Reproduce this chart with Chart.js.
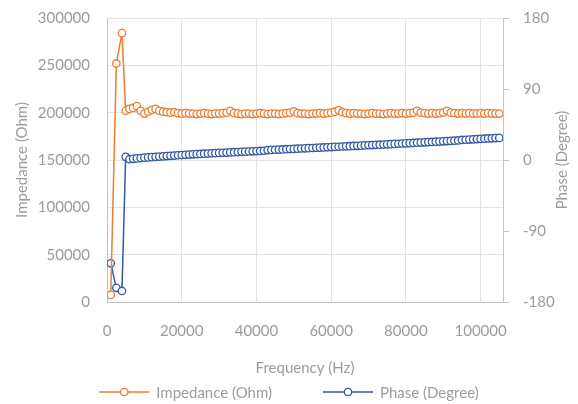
<!DOCTYPE html>
<html>
<head>
<meta charset="utf-8">
<script src="https://cdn.jsdelivr.net/npm/chart.js@4.4.1/dist/chart.umd.min.js"></script>
<style>
  html, body { margin: 0; padding: 0; background: #ffffff; }
  #wrap { width: 578px; height: 404px; }
</style>
</head>
<body>
<div id="wrap"><canvas id="my-chart" width="578" height="404"></canvas></div>
<script>
'use strict';

// frequency (Hz) of every measured point
const frequencies = [
  1000, 2500, 4000,
  5000, 6000, 7000, 8000, 9000, 10000, 11000, 12000, 13000, 14000,
  15000, 16000, 17000, 18000, 19000, 20000, 21000, 22000, 23000, 24000,
  25000, 26000, 27000, 28000, 29000, 30000, 31000, 32000, 33000, 34000,
  35000, 36000, 37000, 38000, 39000, 40000, 41000, 42000, 43000, 44000,
  45000, 46000, 47000, 48000, 49000, 50000, 51000, 52000, 53000, 54000,
  55000, 56000, 57000, 58000, 59000, 60000, 61000, 62000, 63000, 64000,
  65000, 66000, 67000, 68000, 69000, 70000, 71000, 72000, 73000, 74000,
  75000, 76000, 77000, 78000, 79000, 80000, 81000, 82000, 83000, 84000,
  85000, 86000, 87000, 88000, 89000, 90000, 91000, 92000, 93000, 94000,
  95000, 96000, 97000, 98000, 99000, 100000, 101000, 102000, 103000, 104000,
  105000
];

// impedance (Ohm), left axis
const impedance = [
  7500, 252000, 284000,
  202000, 204000, 205000, 207000, 202000, 199000, 201000, 203000, 204000, 202000,
  201000, 200500, 200000, 200500, 199500, 199000, 199500, 199000, 199000, 198500,
  199000, 199500, 199000, 198500, 199000, 199000, 199500, 200000, 202000, 199500,
  199000, 198500, 199000, 199000, 198500, 199000, 199500, 199000, 198500, 199000,
  199000, 198500, 199000, 199500, 200000, 201500, 199500, 199000, 199000, 198500,
  199000, 199000, 199500, 199000, 199500, 200000, 201000, 202500, 200500, 199500,
  199000, 199500, 199000, 199000, 198500, 199000, 199500, 199000, 199000, 198500,
  199000, 199500, 199000, 199000, 199500, 199000, 199500, 200000, 202000, 200000,
  199500, 199000, 199500, 199000, 199500, 200000, 202000, 200000, 199500, 199000,
  199500, 199000, 199500, 199000, 199000, 199500, 199000, 199500, 199000, 199000,
  199000
];

// phase (degree), right axis
const phase = [
  -131, -162, -166,
  4, 1, 1.5, 2, 2.5, 3, 3.3, 3.6, 4, 4.3,
  4.6, 5, 5.3, 5.6, 6, 6.3, 6.6, 6.9, 7.2, 7.5,
  7.7, 8.0, 8.2, 8.5, 8.7, 9.0, 9.2, 9.4, 9.7, 9.9,
  10.1, 10.4, 10.6, 10.8, 11.0, 11.3, 11.5, 11.7, 12.6, 12.8,
  13.0, 13.2, 13.4, 13.7, 13.9, 14.1, 14.3, 14.6, 14.8, 15.0,
  15.2, 15.5, 15.7, 15.9, 16.1, 16.4, 16.6, 16.8, 17.1, 17.3,
  17.5, 17.8, 18.0, 18.2, 18.5, 18.7, 18.9, 19.2, 19.4, 19.6,
  19.9, 20.1, 20.4, 20.6, 20.9, 21.1, 21.4, 21.6, 21.9, 22.1,
  22.4, 22.7, 22.9, 23.2, 23.4, 23.7, 24.0, 24.2, 24.5, 24.8,
  25.4, 25.7, 25.9, 26.2, 26.5, 26.8, 27.0, 27.3, 27.5, 27.8,
  28.0
];

// axis ticks
const freqTicks = [0, 20000, 40000, 60000, 80000, 100000];
const impedanceTicks = [0, 50000, 100000, 150000, 200000, 250000, 300000];
const phaseTicks = [-180, -90, 0, 90, 180];

const seriesNames = ['Impedance (Ohm)', 'Phase (Degree)'];
const seriesColors = ['#ed7d31', '#3358a4'];

const textColor = '#9c9c9c';
const gridColor = '#e4e4e4';
const axisColor = '#c4c4c4';

Chart.defaults.font.family = 'Lato, "Open Sans", sans-serif';
Chart.defaults.font.size = 15;
Chart.defaults.color = textColor;

function toPoints(xs, ys) {
  let pts = [];
  for (let i = 0; i < xs.length; i++) {
    pts.push({ x: xs[i], y: ys[i] });
  }
  return pts;
}

function lineDataset(label, color, data, axis) {
  return {
    label: label,
    data: data,
    yAxisID: axis,
    borderColor: color,
    backgroundColor: '#ffffff',
    borderWidth: 1.5,
    pointRadius: 3.7,
    pointBorderWidth: 1.3,
    pointBackgroundColor: '#ffffff',
    pointBorderColor: color,
    showLine: true,
    tension: 0,
  };
}

// fixed axis box sizes so the plot area sits where excel put it
function fixWidth(w) {
  return (scale) => {
    scale.width = w;
    scale.paddingTop = 0;
    scale.paddingBottom = 0;
  };
}

// legend + right title drawn by hand (excel style)
const extrasPlugin = {
  id: 'extras',
  afterDraw(chart) {
    const ctx = chart.ctx;
    const area = chart.chartArea;
    ctx.save();
    ctx.font = '15px ' + Chart.defaults.font.family;
    ctx.fillStyle = textColor;

    // right axis title, reading upwards
    ctx.save();
    ctx.translate(chart.width - 16, (area.top + area.bottom) / 2);
    ctx.rotate(-Math.PI / 2);
    ctx.textAlign = 'center';
    ctx.textBaseline = 'middle';
    ctx.fillText('Phase (Degree)', 0, 0);
    ctx.restore();

    // legend
    const lineW = 50;
    const gapText = 7;
    const gapItem = 51;
    let widths = seriesNames.map(n => ctx.measureText(n).width);
    let total = 0;
    for (let i = 0; i < widths.length; i++) {
      total += lineW + gapText + widths[i];
      if (i > 0) total += gapItem;
    }
    let x = (chart.width - total) / 2;
    const y = chart.height - 12;
    ctx.textBaseline = 'middle';
    ctx.textAlign = 'left';
    for (let i = 0; i < seriesNames.length; i++) {
      ctx.strokeStyle = seriesColors[i];
      ctx.lineWidth = 1.5;
      ctx.beginPath();
      ctx.moveTo(x, y);
      ctx.lineTo(x + lineW, y);
      ctx.stroke();
      ctx.beginPath();
      ctx.fillStyle = '#ffffff';
      ctx.lineWidth = 1.3;
      ctx.arc(x + lineW / 2, y, 3.7, 0, Math.PI * 2);
      ctx.fill();
      ctx.stroke();
      ctx.fillStyle = textColor;
      ctx.fillText(seriesNames[i], x + lineW + gapText, y + 1);
      x += lineW + gapText + widths[i] + gapItem;
    }
    ctx.restore();
  }
};

function renderChart() {
  let ctx = document.getElementById('my-chart').getContext('2d');

  new Chart(ctx, {
    type: 'scatter',
    data: {
      datasets: [
        lineDataset(seriesNames[0], seriesColors[0], toPoints(frequencies, impedance), 'y'),
        lineDataset(seriesNames[1], seriesColors[1], toPoints(frequencies, phase), 'y2'),
      ],
    },
    options: {
      responsive: false,
      animation: false,
      layout: { padding: { top: 18, left: 0, right: 0, bottom: 0 } },
      plugins: {
        legend: { display: false },
        tooltip: { enabled: false },
      },
      scales: {
        x: {
          type: 'linear',
          min: 0,
          max: 106000,
          afterBuildTicks: (scale) => { scale.ticks = freqTicks.map(v => ({ value: v })); },
          afterFit: (scale) => { scale.height = 102; },
          ticks: { padding: 20, callback: (v) => String(v) },
          grid: { color: gridColor, drawTicks: false },
          border: { color: axisColor },
          title: { display: true, text: 'Frequency (Hz)', padding: { top: 0, bottom: 27 } },
        },
        y: {
          position: 'left',
          min: 0,
          max: 300000,
          afterBuildTicks: (scale) => { scale.ticks = impedanceTicks.map(v => ({ value: v })); },
          afterFit: fixWidth(107),
          ticks: { padding: 17, callback: (v) => String(v) },
          grid: { color: gridColor, drawTicks: false },
          border: { color: axisColor },
          title: { display: true, text: 'Impedance (Ohm)', padding: { top: 13, bottom: 0 } },
        },
        y2: {
          position: 'right',
          min: -180,
          max: 180,
          afterBuildTicks: (scale) => { scale.ticks = phaseTicks.map(v => ({ value: v })); },
          afterFit: fixWidth(75),
          ticks: { padding: 14, callback: (v) => String(v) },
          grid: { drawOnChartArea: false, color: axisColor, tickLength: 6 },
          border: { color: axisColor },
        },
      },
    },
    plugins: [extrasPlugin],
  });
}

renderChart();
</script>
</body>
</html>
